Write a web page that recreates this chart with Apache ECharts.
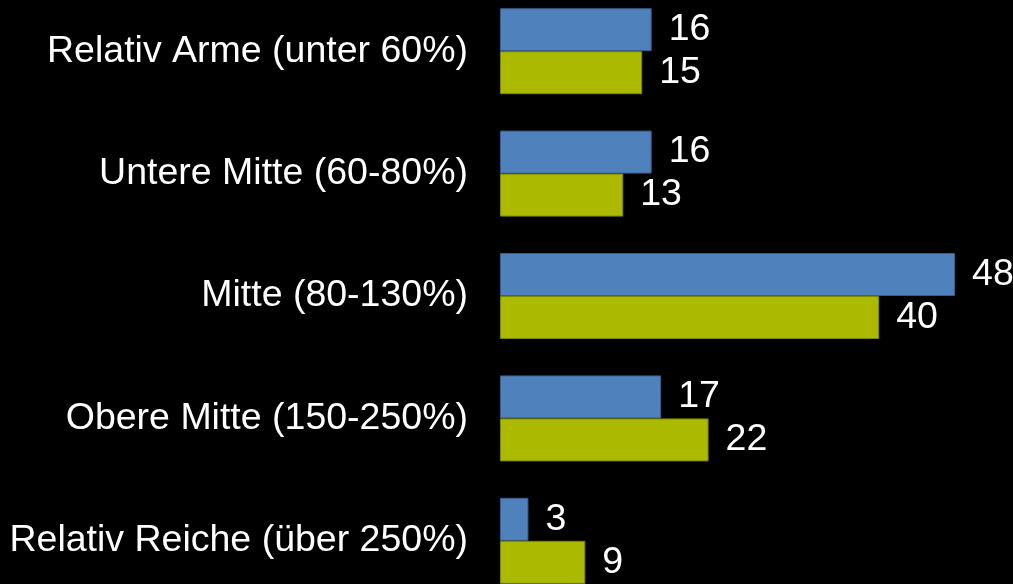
<!DOCTYPE html>
<html><head><meta charset="utf-8">
<script src="https://cdn.jsdelivr.net/npm/echarts@6/dist/echarts.min.js"></script>
<style>html,body{margin:0;padding:0;background:#000;overflow:hidden;}#c{position:absolute;left:0;top:-10px;width:1013px;height:622px;}</style>
</head><body><div id="c"></div>
<script>
var categories = ['Relativ Arme (unter 60%)', 'Untere Mitte (60-80%)', 'Mitte (80-130%)', 'Obere Mitte (150-250%)', 'Relativ Reiche (über 250%)'];
var seriesBlue = [16, 16, 48, 17, 3];
var seriesGreen = [15, 13, 40, 22, 9];

var chart = echarts.init(document.getElementById('c'), null, {renderer: 'canvas'});
var labelStyle = {show: true, position: 'right', distance: 17, color: '#ffffff', fontSize: 37.5, fontFamily: 'Liberation Sans, Arial, sans-serif'};
chart.setOption({
  backgroundColor: '#000000',
  animation: false,
  grid: {left: 500, width: 474, top: 0, height: 612, containLabel: false},
  xAxis: {type: 'value', min: 0, max: 50, show: false},
  yAxis: {
    type: 'category', data: categories, inverse: true,
    axisLine: {show: false}, axisTick: {show: false}, splitLine: {show: false},
    axisLabel: {color: '#ffffff', fontSize: 37.5, margin: 32, fontFamily: 'Liberation Sans, Arial, sans-serif'}
  },
  series: [
    {type: 'bar', data: seriesBlue, barWidth: 43, barGap: '0%',
     itemStyle: {color: '#4f81bd', borderColor: '#385d8a', borderWidth: 1},
     label: labelStyle},
    {type: 'bar', data: seriesGreen, barWidth: 43, barGap: '0%',
     itemStyle: {color: '#abb900', borderColor: '#7c8700', borderWidth: 1},
     label: labelStyle}
  ]
});
</script></body></html>
